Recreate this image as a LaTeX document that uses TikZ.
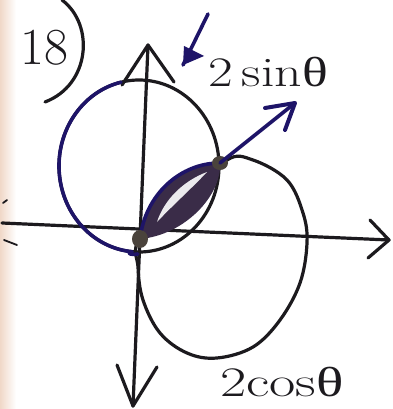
\documentclass[tikz,border=0pt]{standalone}
\usepackage{fontspec}
\newfontfamily\grk{Liberation Serif}
\begin{document}
\begin{tikzpicture}[x=1pt,y=-1pt,
  ink/.style={draw=inkblack,line width=3.2pt,line cap=round,line join=round},
  blueink/.style={draw=inkblue,line width=3.6pt,line cap=round,line join=round},
  hand/.style={inner sep=0pt,text=inkblack}]
\definecolor{inkblack}{HTML}{1C1A1E}
\definecolor{inkblue}{HTML}{1E1468}
\definecolor{lensfill}{HTML}{3A2C48}
\definecolor{dotfill}{HTML}{4A433C}
\definecolor{paperedge}{HTML}{F0D8C8}
\useasboundingbox (0,0) rectangle (392,409);
\fill[white] (0,0) rectangle (392,409);
\shade[left color=paperedge,right color=white] (0,0) rectangle (16,409);
% points
\coordinate (O) at (140,239);
\coordinate (P) at (220,163);
% label 18
\node[hand,font=\fontsize{52}{52}\selectfont] (num) at (44,48) {18};
\draw[ink] (62,0) .. controls (95,25) and (90,85) .. (45,102);
% axes
\coordinate (ytop) at (148,45);
\coordinate (ybot) at (133,406);
\coordinate (xl) at (2,223);
\coordinate (xr) at (389,240);
\draw[ink] (ytop) -- (ybot);
\draw[ink] (122,85) -- (ytop) -- (174,82);
\draw[ink] (117,365) -- (ybot) -- (157,367);
\draw[ink] (xl) -- (xr);
\draw[ink] (370,220) -- (xr) -- (368,258);
\draw[ink,line width=1.8pt] (3,203) -- (7,200);
\draw[ink,line width=1.8pt] (4,240) -- (17,245);
% 2 cos circle
\draw[ink] plot[smooth cycle,tension=0.6] coordinates {
 (140,239) (138,267) (143,300) (160,333) (187,353) (217,358) (253,347)
 (280,320) (300,283) (307,243) (303,213) (287,180) (253,160) (227,160) (190,200)};
% 2 sin circle
\coordinate (sc) at (139,166);
\draw[ink] (sc) ellipse (80 and 86);
\draw[blueink] ([shift={(257:80 and 86)}]sc) arc[start angle=257,end angle=95,x radius=80,y radius=86]
  .. controls (125,254) and (133,255) .. (138,254);
% lens
\fill[lensfill] (O) .. controls (145,195) and (180,163) .. (P)
  .. controls (222,195) and (185,235) .. (O);
\draw[blueink] (O) .. controls (145,195) and (180,163) .. (P);
\fill[white,opacity=0.9] (157,222) .. controls (164,200) and (183,181) .. (207,172)
  .. controls (191,189) and (172,206) .. (157,222);
% dots
\fill[dotfill] (O) ellipse (8 and 9);
\fill[dotfill] (P) ellipse (8 and 7);
% arrow from P
\coordinate (atip) at (295,103);
\draw[blueink] (P) -- (atip);
\draw[blueink,line width=4pt] (265,108) -- (atip) -- (285,130);
% small arrow
\coordinate (stail) at (208,14);
\coordinate (stip) at (183,65);
\draw[blueink] (stail) -- (stip);
\fill[inkblue] (stip) -- (184,46) -- (204,56) -- cycle;
% labels
\node[hand,font=\fontsize{42}{42}\selectfont,anchor=west] (sinlab) at (208,72) {\scalebox{1.28}[1]{2\,sin{\grk θ}}};
\node[hand,font=\fontsize{42}{42}\selectfont,anchor=west] (coslab) at (220,382) {\scalebox{1.36}[1]{2cos{\grk θ}}};
\end{tikzpicture}
\end{document}
